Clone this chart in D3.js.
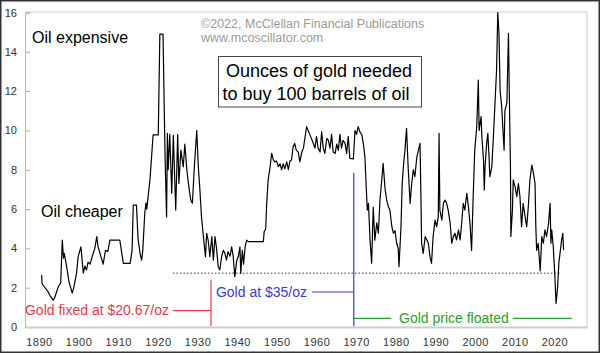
<!DOCTYPE html>
<html>
<head>
<meta charset="utf-8">
<script src="https://cdn.jsdelivr.net/npm/d3@7"></script>
<style>
  body { margin: 0; background: #fff; }
  svg { display: block; font-family: "Liberation Sans", Arial, sans-serif; }
  .tick-lbl { font-size: 11px; fill: #333; }
</style>
</head>
<body>
<div id="chart"></div>
<script>
// ounces of gold per 100 barrels of oil, [year, value]
const goldOilRatio= [
  [1890.7, 2.64], [1890.8, 2.2], [1892.3, 1.8], [1892.8, 1.6], [1893.6, 1.37], [1894.0, 1.5],
  [1894.9, 2.05], [1895.5, 2.25], [1895.9, 4.42], [1896.2, 3.5], [1896.4, 3.75], [1897.0, 3.07],
  [1897.6, 2.3], [1898.4, 1.72], [1898.8, 2.0], [1899.5, 2.74], [1899.9, 3.58], [1900.6, 4.08],
  [1901.2, 2.74], [1901.6, 3.1], [1902.0, 2.9], [1902.4, 3.3], [1902.9, 3.2], [1903.7, 3.75],
  [1904.1, 4.0], [1904.6, 4.6], [1904.9, 4.1], [1905.4, 3.75], [1906.2, 3.2], [1906.8, 3.9],
  [1907.4, 3.85], [1907.9, 4.42], [1910.4, 4.42], [1911.3, 3.24], [1913.0, 3.24], [1913.5, 3.9],
  [1913.8, 6.2], [1914.6, 6.2], [1915.0, 4.5], [1915.5, 3.75], [1915.9, 3.4], [1916.2, 3.9],
  [1916.7, 5.8], [1917.0, 6.3], [1917.2, 6.0], [1918.0, 7.48], [1918.8, 9.77], [1920.1, 9.77],
  [1920.5, 14.9], [1921.3, 14.9], [1921.8, 8.8], [1922.2, 5.6], [1922.4, 9.85], [1922.6, 8.0],
  [1923.0, 9.8], [1923.5, 6.8], [1923.9, 9.75], [1924.5, 5.95], [1925.0, 9.8], [1925.3, 7.3],
  [1925.8, 9.0], [1926.4, 8.15], [1926.8, 9.3], [1927.3, 8.0], [1927.8, 7.15], [1928.3, 6.46],
  [1928.7, 6.3], [1929.2, 8.15], [1929.8, 10.0], [1930.2, 8.15], [1930.6, 6.97], [1931.0, 5.6],
  [1931.4, 4.77], [1932.0, 3.58], [1932.3, 4.77], [1932.7, 4.4], [1933.1, 3.58], [1933.6, 4.6],
  [1934.0, 3.4], [1934.4, 4.6], [1934.8, 4.0], [1935.2, 3.07], [1935.6, 2.9], [1936.1, 3.6],
  [1936.5, 3.9], [1936.9, 3.75], [1937.3, 3.4], [1937.7, 3.83], [1938.2, 3.6], [1938.6, 4.08],
  [1939.0, 3.6], [1939.4, 2.56], [1939.9, 3.4], [1940.3, 3.6], [1940.7, 4.08], [1940.9, 2.73],
  [1941.3, 3.9], [1941.6, 3.2], [1942.0, 4.08], [1942.4, 4.42], [1942.8, 4.34], [1946.6, 4.34],
  [1946.8, 4.85], [1947.2, 5.0], [1947.4, 6.12], [1947.8, 7.48], [1948.3, 8.15], [1948.7, 8.83],
  [1949.1, 8.5], [1949.5, 8.4], [1949.9, 8.45], [1950.4, 8.15], [1950.8, 8.3], [1951.2, 8.0],
  [1951.6, 8.3], [1952.0, 8.05], [1952.5, 8.4], [1952.9, 8.0], [1953.3, 8.45], [1953.7, 8.5],
  [1954.1, 9.17], [1954.5, 9.34], [1954.9, 9.0], [1955.4, 8.9], [1955.8, 8.4], [1956.3, 8.9],
  [1956.7, 9.1], [1957.5, 10.19], [1958.3, 9.8], [1959.2, 9.34], [1959.6, 9.1], [1960.0, 9.7],
  [1960.4, 9.1], [1960.9, 8.9], [1961.3, 9.93], [1961.7, 9.1], [1962.1, 8.83], [1962.6, 9.6],
  [1963.0, 9.5], [1963.4, 9.1], [1963.8, 9.8], [1964.2, 8.9], [1964.7, 8.83], [1965.1, 9.3],
  [1965.5, 9.0], [1965.9, 9.8], [1966.3, 9.1], [1966.7, 9.5], [1967.2, 9.34], [1967.6, 8.83],
  [1968.0, 9.7], [1968.4, 8.58], [1969.3, 8.55], [1969.7, 10.0], [1970.1, 9.8], [1970.5, 10.19],
  [1971.0, 9.9], [1971.4, 9.8], [1971.8, 9.34], [1972.2, 8.66], [1972.5, 7.3], [1972.8, 5.95],
  [1973.1, 6.29], [1973.5, 4.42], [1973.9, 3.24], [1974.3, 6.1], [1974.7, 4.42], [1975.2, 5.3],
  [1975.6, 4.77], [1976.0, 6.46], [1976.6, 7.82], [1976.8, 8.32], [1977.3, 7.0], [1977.7, 6.46],
  [1978.1, 6.12], [1978.5, 5.95], [1979.0, 5.1], [1979.4, 4.77], [1979.8, 4.9], [1980.2, 4.26],
  [1980.6, 4.0], [1980.8, 3.07], [1981.3, 5.1], [1981.6, 7.3], [1981.9, 8.15], [1982.3, 9.0],
  [1982.7, 10.1], [1983.1, 8.15], [1983.6, 6.29], [1984.0, 7.3], [1984.4, 8.0], [1984.8, 7.65],
  [1985.3, 8.66], [1985.7, 9.0], [1986.1, 9.34], [1986.3, 6.97], [1986.5, 4.26], [1986.9, 3.75],
  [1987.4, 4.6], [1988.2, 4.26], [1988.6, 3.58], [1989.0, 3.24], [1989.4, 4.6], [1989.9, 5.44],
  [1990.3, 5.1], [1990.7, 5.6], [1990.9, 9.85], [1991.1, 5.95], [1991.6, 5.44], [1992.0, 6.29],
  [1992.4, 6.46], [1992.8, 6.29], [1993.2, 5.95], [1993.7, 5.27], [1994.1, 4.26], [1994.5, 4.6],
  [1994.9, 4.77], [1995.3, 4.43], [1995.8, 4.94], [1996.2, 4.43], [1996.6, 5.27], [1997.0, 6.29],
  [1997.4, 5.95], [1997.9, 6.8], [1998.3, 6.12], [1998.7, 5.27], [1999.1, 3.9], [1999.5, 6.63],
  [1999.9, 9.0], [2000.4, 10.2], [2000.8, 12.56], [2001.0, 10.0], [2001.5, 10.7], [2001.7, 9.68],
  [2002.1, 8.5], [2002.3, 6.97], [2002.5, 8.15], [2002.9, 9.34], [2003.2, 9.85], [2003.5, 8.66],
  [2003.7, 7.65], [2004.2, 8.15], [2004.6, 9.68], [2005.0, 11.38], [2005.4, 13.07], [2005.7, 16.0],
  [2006.0, 14.94], [2006.3, 12.0], [2006.7, 11.2], [2007.1, 9.68], [2007.3, 9.0], [2007.5, 11.0],
  [2008.0, 11.4], [2008.4, 14.94], [2008.6, 12.0], [2008.9, 8.15], [2009.0, 4.6], [2009.4, 5.95],
  [2009.6, 7.48], [2010.1, 7.1], [2010.5, 6.63], [2010.9, 7.3], [2011.3, 6.63], [2011.7, 5.1],
  [2012.1, 6.29], [2012.6, 5.6], [2013.0, 5.1], [2013.4, 6.12], [2013.8, 7.48], [2014.3, 8.24],
  [2014.7, 7.82], [2015.1, 7.3], [2015.3, 5.1], [2015.5, 3.9], [2015.9, 4.26], [2016.4, 2.85],
  [2016.8, 4.6], [2017.2, 4.26], [2017.6, 4.94], [2018.0, 4.6], [2018.5, 5.27], [2018.9, 6.29],
  [2019.1, 4.26], [2019.3, 4.94], [2019.7, 4.08], [2020.1, 2.56], [2020.4, 1.2], [2020.8, 2.05],
  [2021.1, 3.24], [2021.4, 3.75], [2021.8, 4.43], [2022.1, 4.77], [2022.3, 3.9],
];

const yTicks= [0, 2, 4, 6, 8, 10, 12, 14, 16];
const xTicks= [1890, 1900, 1910, 1920, 1930, 1940, 1950, 1960, 1970, 1980, 1990, 2000, 2010, 2020];

// reference level and the gold-regime markers (years and values)
const floorLine= { from: 1923.8, to: 2021.4, value: 2.74 };
const regimes= [
  { label: 'Gold fixed at $20.67/oz', color: '#e8384f', lineFrom: 1923.8, lineTo: 1933.4, lineVal: 0.83,
    edge: 1933.4, edgeTop: 2.4, textEnd: 1922.8, textVal: 0.6 },
  { label: 'Gold at $35/oz', color: '#3a3ad0', lineFrom: 1958.9, lineTo: 1969.4, lineVal: 1.78,
    edge: 1969.4, edgeTop: 7.83, textEnd: 1957.6, textVal: 1.55 },
];
const floated= { label: 'Gold price floated', color: '#2e9e2e', segs: [[1969.4, 1978.8], [2009.5, 2024.4]],
  lineVal: 0.44, textStart: 1980.8, textVal: 0.2 };

const W= 600, H= 353;
const PL= 25, PR= 587, PT= 12.5, PB= 327;

const svg= d3.select('#chart').append('svg')
  .attr('width', W).attr('height', H);

svg.append('rect')
  .attr('x', 0.75).attr('y', 0.75)
  .attr('width', W-1.5).attr('height', H-1.5)
  .attr('fill', '#fff').attr('stroke', '#333').attr('stroke-width', 1.5);

const x= d3.scaleLinear().domain([1886.5, 2028.2]).range([PL, PR]);
const y= d3.scaleLinear().domain([0, 16]).range([PB, PT]);

// plot frame
svg.append('line').attr('x1', PL).attr('x2', PR).attr('y1', 12).attr('y2', 12)
  .attr('stroke', '#ccc');
svg.append('line').attr('x1', PR).attr('x2', PR).attr('y1', 12).attr('y2', PB)
  .attr('stroke', '#ccc');

// y axis, ticks pointing inward
const yAx= svg.append('g')
  .attr('transform', `translate(${PL},0)`)
  .call(d3.axisRight(y).tickValues(yTicks).tickSize(5).tickFormat(d3.format('d')));
yAx.select('.domain').attr('stroke', '#bbb');
yAx.selectAll('.tick line').attr('stroke', '#aaa');
yAx.selectAll('text')
  .attr('class', 'tick-lbl')
  .attr('x', -8).attr('text-anchor', 'end');

// x axis
const xAx= svg.append('g')
  .attr('transform', `translate(0,${PB})`)
  .call(d3.axisBottom(x).tickValues(xTicks).tickSize(0).tickPadding(11).tickFormat(d3.format('d')));
xAx.select('.domain').attr('stroke', '#ccc').attr('stroke-width', 2);
xAx.selectAll('text')
  .attr('class', 'tick-lbl')
  .style('letter-spacing', '0.5px');

// dotted reference level
svg.append('line')
  .attr('x1', x(floorLine.from)).attr('x2', x(floorLine.to))
  .attr('y1', y(floorLine.value)).attr('y2', y(floorLine.value))
  .attr('stroke', '#333').attr('stroke-width', 1).attr('stroke-dasharray', '1.5,2');

// regimes
for (const r of regimes) {
  svg.append('line')
    .attr('x1', x(r.lineFrom)).attr('x2', x(r.lineTo))
    .attr('y1', y(r.lineVal)).attr('y2', y(r.lineVal))
    .attr('stroke', r.color).attr('stroke-width', 1.2);
  svg.append('line')
    .attr('x1', x(r.edge)).attr('x2', x(r.edge))
    .attr('y1', y(r.edgeTop)).attr('y2', PB-1)
    .attr('stroke', r.color).attr('stroke-width', 1.2);
  svg.append('text')
    .attr('x', x(r.textEnd)).attr('y', y(r.textVal))
    .attr('text-anchor', 'end')
    .attr('font-size', 14).attr('fill', r.color)
    .text(r.label);
}
for (const s of floated.segs) {
  svg.append('line')
    .attr('x1', x(s[0])).attr('x2', x(s[1]))
    .attr('y1', y(floated.lineVal)).attr('y2', y(floated.lineVal))
    .attr('stroke', floated.color).attr('stroke-width', 1.2);
}
svg.append('text')
  .attr('x', x(floated.textStart)).attr('y', y(floated.textVal))
  .attr('font-size', 14).attr('fill', floated.color)
  .text(floated.label);

// the ratio line
const line= d3.line()
  .x(d => x(d[0]))
  .y(d => y(d[1]));
svg.append('path')
  .datum(goldOilRatio)
  .attr('d', line)
  .attr('fill', 'none')
  .attr('stroke', '#000')
  .attr('stroke-width', 1.2)
  .attr('stroke-linejoin', 'round');

// labels
svg.append('text').attr('x', 32).attr('y', 43)
  .attr('font-size', 16).attr('fill', '#000').text('Oil expensive');
svg.append('text').attr('x', 41).attr('y', 217)
  .attr('font-size', 16).attr('fill', '#000').text('Oil cheaper');

svg.append('text').attr('x', 201).attr('y', 28)
  .attr('font-size', 12.5).attr('fill', '#9a9a9a').text('©2022, McClellan Financial Publications');
svg.append('text').attr('x', 201).attr('y', 41.5)
  .attr('font-size', 12.5).attr('fill', '#9a9a9a').text('www.mcoscillator.com');

svg.append('rect')
  .attr('x', 218.5).attr('y', 56.5).attr('width', 203).attr('height', 50.5)
  .attr('fill', '#fff').attr('stroke', '#444').attr('stroke-width', 1);
svg.append('text').attr('x', 319).attr('y', 76.5).attr('text-anchor', 'middle')
  .attr('font-size', 18).attr('fill', '#000').text('Ounces of gold needed');
svg.append('text').attr('x', 316).attr('y', 100).attr('text-anchor', 'middle')
  .attr('font-size', 18).attr('fill', '#000').text('to buy 100 barrels of oil');
</script>
</body>
</html>
